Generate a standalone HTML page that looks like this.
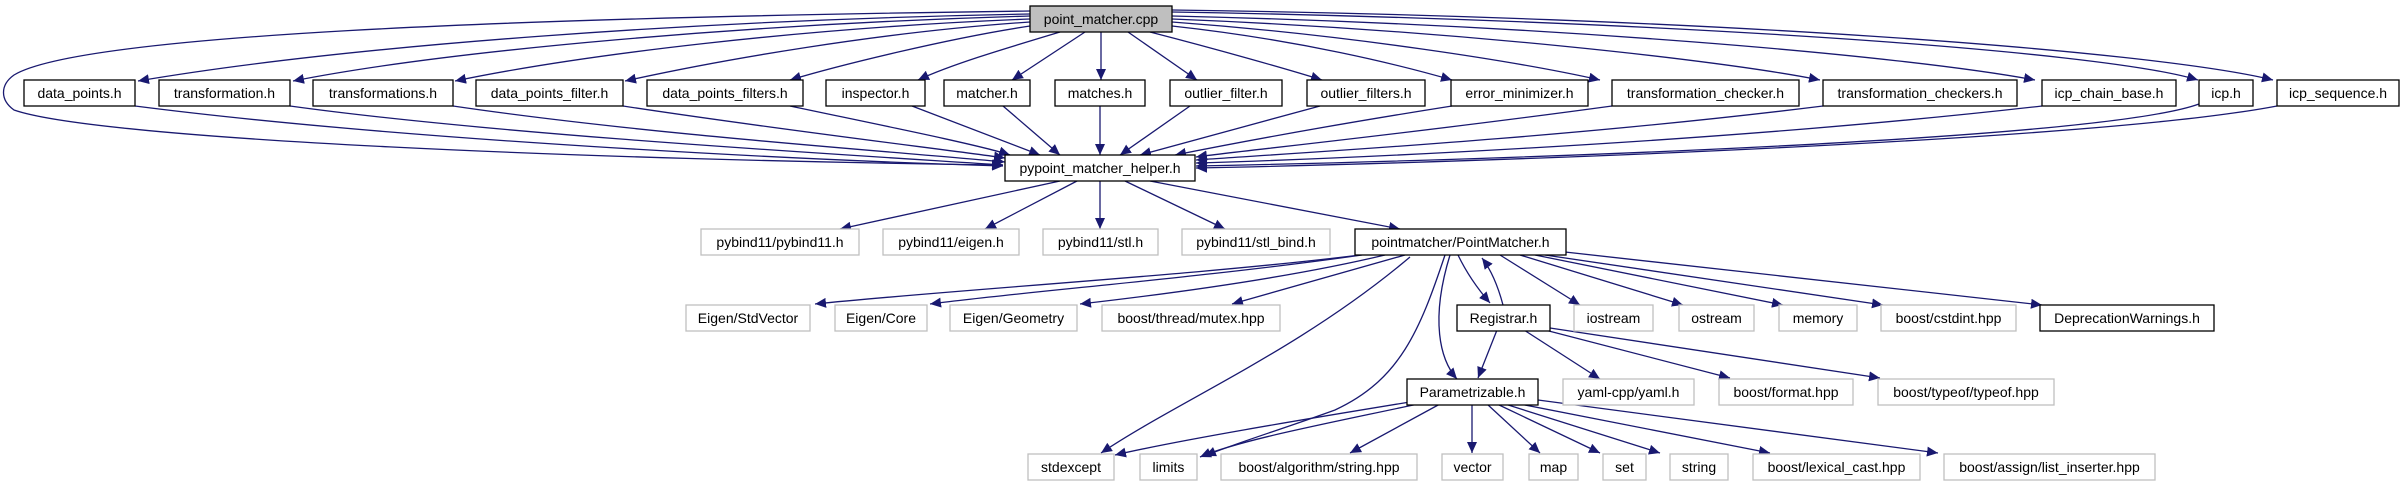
<!DOCTYPE html>
<html><head><meta charset="utf-8"><style>
html,body{margin:0;padding:0;background:#fff;}
svg{display:block;}
text{font-family:"Liberation Sans",sans-serif;font-size:14px;text-anchor:middle;fill:#000;}
.b{fill:#fff;stroke:#000;stroke-width:1.3;}
.g{fill:#fff;stroke:#bfbfbf;stroke-width:1.3;}
.e{fill:none;stroke:#191970;stroke-width:1.3;marker-end:url(#a);}
</style></head><body>
<svg width="2405" height="485" viewBox="0 0 2405 485" xmlns="http://www.w3.org/2000/svg">
<defs><marker id="a" markerUnits="userSpaceOnUse" markerWidth="12" markerHeight="10" refX="11" refY="5" orient="auto"><polygon points="0,0 11,5 0,10" fill="#191970"/></marker></defs>
<g>
<path class="e" d="M1030,11 C500,18 80,35 14,75 C0,85 0,100 14,110 C100,140 600,160 1003,165"/>
<path class="e" d="M1030,14 C700,20 350,45 138,81"/>
<path class="e" d="M1030,16 C750,24 450,50 293,81"/>
<path class="e" d="M1030,19 C800,28 580,55 455,81"/>
<path class="e" d="M1030,22 C880,32 720,60 625,81"/>
<path class="e" d="M1030,26 C950,38 840,65 790,80"/>
<path class="e" d="M1060,32 C1000,50 950,65 918,80"/>
<path class="e" d="M1085,32 L1012,80"/>
<path class="e" d="M1101,32 L1101,80"/>
<path class="e" d="M1128,32 L1197,80"/>
<path class="e" d="M1150,32 C1220,50 1290,70 1322,80"/>
<path class="e" d="M1172,26 C1300,40 1400,65 1452,80"/>
<path class="e" d="M1172,22 C1350,35 1520,62 1600,80"/>
<path class="e" d="M1172,19 C1450,30 1720,60 1820,80"/>
<path class="e" d="M1172,16 C1550,25 1900,55 2035,80"/>
<path class="e" d="M1172,12 C1650,20 2100,50 2198,80"/>
<path class="e" d="M1172,10 C1700,17 2150,50 2273,80"/>
<path class="e" d="M135,106 C400,140 800,160 1003,166"/>
<path class="e" d="M290,106 C500,135 850,155 1003,165"/>
<path class="e" d="M453,106 C650,135 900,152 1005,162"/>
<path class="e" d="M623,106 C780,130 950,150 1005,158"/>
<path class="e" d="M790,106 C880,125 980,145 1010,155"/>
<path class="e" d="M912,106 L1040,155"/>
<path class="e" d="M1003,106 L1060,155"/>
<path class="e" d="M1100,106 L1100,155"/>
<path class="e" d="M1190,106 L1120,155"/>
<path class="e" d="M1320,106 L1140,155"/>
<path class="e" d="M1452,106 C1300,130 1200,150 1175,155"/>
<path class="e" d="M1612,106 C1400,135 1230,152 1196,157"/>
<path class="e" d="M1823,106 C1550,140 1260,155 1196,160"/>
<path class="e" d="M2042,106 C1700,145 1300,160 1196,163"/>
<path class="e" d="M2199,104 C2100,140 1500,160 1196,166"/>
<path class="e" d="M2277,106 C2100,140 1500,162 1196,168"/>
<path class="e" d="M1060,181 L840,229"/>
<path class="e" d="M1077,181 L985,229"/>
<path class="e" d="M1100,181 L1100,229"/>
<path class="e" d="M1125,181 L1225,229"/>
<path class="e" d="M1150,181 L1400,229"/>
<path class="e" d="M1360,255 C1200,275 950,290 815,304"/>
<path class="e" d="M1362,255 C1200,278 1020,292 930,304"/>
<path class="e" d="M1385,255 C1280,280 1150,296 1080,304"/>
<path class="e" d="M1405,255 L1232,304"/>
<path class="e" d="M1410,257 C1300,350 1180,400 1101,453"/>
<path class="e" d="M1445,255 C1420,330 1400,380 1335,410 C1280,430 1230,445 1205,456"/>
<path class="e" d="M1450,255 C1430,320 1440,360 1457,379"/>
<path class="e" d="M1458,255 Q1470,280 1490,303"/>
<path class="e" d="M1503,305 Q1495,275 1482,258"/>
<path class="e" d="M1500,255 L1580,305"/>
<path class="e" d="M1520,255 L1683,305"/>
<path class="e" d="M1535,255 L1783,305"/>
<path class="e" d="M1545,255 L1883,305"/>
<path class="e" d="M1565,252 L2042,305"/>
<path class="e" d="M1497,330 L1478,378"/>
<path class="e" d="M1524,330 L1600,379"/>
<path class="e" d="M1545,330 L1730,378"/>
<path class="e" d="M1550,328 L1880,378"/>
<path class="e" d="M1410,402 C1300,420 1180,440 1115,455"/>
<path class="e" d="M1418,404 C1320,425 1240,440 1200,457"/>
<path class="e" d="M1440,404 L1350,453"/>
<path class="e" d="M1472,404 L1472,453"/>
<path class="e" d="M1487,404 L1540,453"/>
<path class="e" d="M1497,404 L1600,453"/>
<path class="e" d="M1505,404 L1660,453"/>
<path class="e" d="M1520,404 L1770,453"/>
<path class="e" d="M1538,400 L1938,453"/>
</g>
<g>
<rect x="1030" y="6" width="142" height="26" fill="#bfbfbf" stroke="#000" stroke-width="1.3"/><text x="1101" y="24">point_matcher.cpp</text>
<rect class="b" x="24" y="80" width="111" height="26"/><text x="79.5" y="98">data_points.h</text>
<rect class="b" x="159" y="80" width="131" height="26"/><text x="224.5" y="98">transformation.h</text>
<rect class="b" x="313" y="80" width="140" height="26"/><text x="383" y="98">transformations.h</text>
<rect class="b" x="476" y="80" width="147" height="26"/><text x="549.5" y="98">data_points_filter.h</text>
<rect class="b" x="647" y="80" width="156" height="26"/><text x="725" y="98">data_points_filters.h</text>
<rect class="b" x="826" y="80" width="99" height="26"/><text x="875.5" y="98">inspector.h</text>
<rect class="b" x="944" y="80" width="86" height="26"/><text x="987" y="98">matcher.h</text>
<rect class="b" x="1055" y="80" width="90" height="26"/><text x="1100" y="98">matches.h</text>
<rect class="b" x="1170" y="80" width="112" height="26"/><text x="1226" y="98">outlier_filter.h</text>
<rect class="b" x="1307" y="80" width="118" height="26"/><text x="1366" y="98">outlier_filters.h</text>
<rect class="b" x="1451" y="80" width="137" height="26"/><text x="1519.5" y="98">error_minimizer.h</text>
<rect class="b" x="1612" y="80" width="187" height="26"/><text x="1705.5" y="98">transformation_checker.h</text>
<rect class="b" x="1823" y="80" width="194" height="26"/><text x="1920" y="98">transformation_checkers.h</text>
<rect class="b" x="2042" y="80" width="134" height="26"/><text x="2109" y="98">icp_chain_base.h</text>
<rect class="b" x="2199" y="80" width="54" height="26"/><text x="2226" y="98">icp.h</text>
<rect class="b" x="2277" y="80" width="122" height="26"/><text x="2338" y="98">icp_sequence.h</text>
<rect class="b" x="1005" y="155" width="190" height="26"/><text x="1100" y="173">pypoint_matcher_helper.h</text>
<rect class="g" x="701" y="229" width="158" height="26"/><text x="780" y="247">pybind11/pybind11.h</text>
<rect class="g" x="883" y="229" width="136" height="26"/><text x="951" y="247">pybind11/eigen.h</text>
<rect class="g" x="1043" y="229" width="115" height="26"/><text x="1100.5" y="247">pybind11/stl.h</text>
<rect class="g" x="1182" y="229" width="148" height="26"/><text x="1256" y="247">pybind11/stl_bind.h</text>
<rect class="b" x="1355" y="229" width="211" height="26"/><text x="1460.5" y="247">pointmatcher/PointMatcher.h</text>
<rect class="g" x="686" y="305" width="124" height="26"/><text x="748" y="323">Eigen/StdVector</text>
<rect class="g" x="835" y="305" width="92" height="26"/><text x="881" y="323">Eigen/Core</text>
<rect class="g" x="950" y="305" width="127" height="26"/><text x="1013.5" y="323">Eigen/Geometry</text>
<rect class="g" x="1102" y="305" width="178" height="26"/><text x="1191" y="323">boost/thread/mutex.hpp</text>
<rect class="b" x="1457" y="305" width="93" height="26"/><text x="1503.5" y="323">Registrar.h</text>
<rect class="g" x="1574" y="305" width="79" height="26"/><text x="1613.5" y="323">iostream</text>
<rect class="g" x="1679" y="305" width="75" height="26"/><text x="1716.5" y="323">ostream</text>
<rect class="g" x="1779" y="305" width="78" height="26"/><text x="1818" y="323">memory</text>
<rect class="g" x="1881" y="305" width="135" height="26"/><text x="1948.5" y="323">boost/cstdint.hpp</text>
<rect class="b" x="2040" y="305" width="174" height="26"/><text x="2127" y="323">DeprecationWarnings.h</text>
<rect class="b" x="1407" y="379" width="131" height="26"/><text x="1472.5" y="397">Parametrizable.h</text>
<rect class="g" x="1563" y="379" width="131" height="26"/><text x="1628.5" y="397">yaml-cpp/yaml.h</text>
<rect class="g" x="1719" y="379" width="134" height="26"/><text x="1786" y="397">boost/format.hpp</text>
<rect class="g" x="1878" y="379" width="176" height="26"/><text x="1966" y="397">boost/typeof/typeof.hpp</text>
<rect class="g" x="1028" y="454" width="86" height="26"/><text x="1071" y="472">stdexcept</text>
<rect class="g" x="1140" y="454" width="57" height="26"/><text x="1168.5" y="472">limits</text>
<rect class="g" x="1221" y="454" width="196" height="26"/><text x="1319" y="472">boost/algorithm/string.hpp</text>
<rect class="g" x="1442" y="454" width="61" height="26"/><text x="1472.5" y="472">vector</text>
<rect class="g" x="1529" y="454" width="49" height="26"/><text x="1553.5" y="472">map</text>
<rect class="g" x="1603" y="454" width="43" height="26"/><text x="1624.5" y="472">set</text>
<rect class="g" x="1670" y="454" width="58" height="26"/><text x="1699" y="472">string</text>
<rect class="g" x="1753" y="454" width="167" height="26"/><text x="1836.5" y="472">boost/lexical_cast.hpp</text>
<rect class="g" x="1944" y="454" width="211" height="26"/><text x="2049.5" y="472">boost/assign/list_inserter.hpp</text>
</g>
</svg>
</body></html>
